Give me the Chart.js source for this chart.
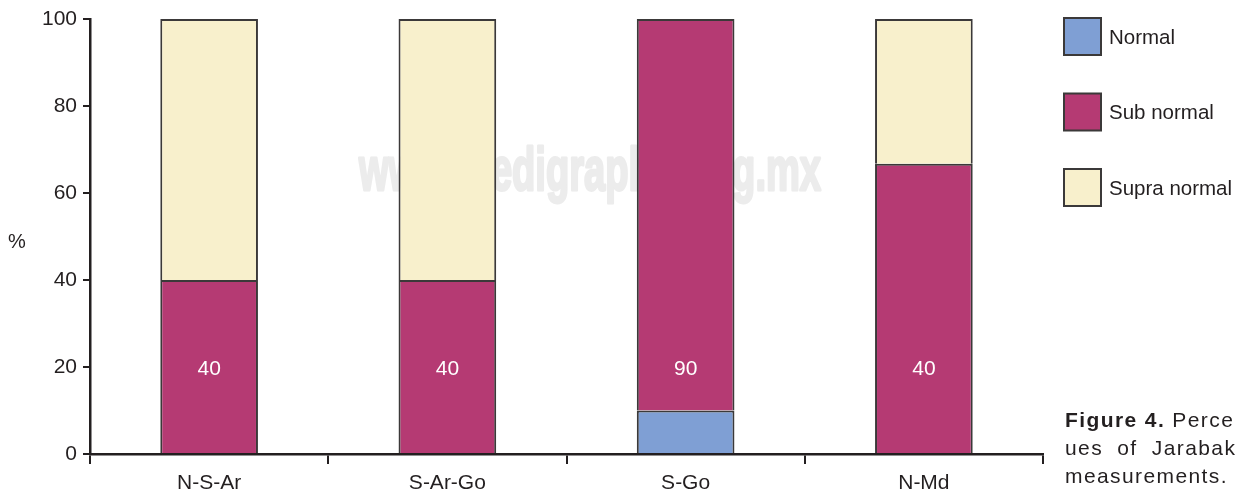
<!DOCTYPE html>
<html>
<head>
<meta charset="utf-8">
<script src="https://cdn.jsdelivr.net/npm/chart.js@4"></script>
<style>
  html, body { margin: 0; padding: 0; background: #fff; overflow: hidden; }
  #wrap { position: relative; width: 1243px; height: 493px; }
  #caption {
    position: absolute; left: 1065px; top: 406px; width: 400px;
    font: 21px "Liberation Sans", Arial, sans-serif; color: #231f20;
    letter-spacing: 1.4px; line-height: 28px; white-space: nowrap;
  }
  #caption .wide { word-spacing: 7px; }
</style>
</head>
<body>
<div id="wrap">
  <canvas id="chart"></canvas>
  <div id="caption"><b>Figure 4.</b> Perce<br><span class="wide">ues of Jarabak</span><br>measurements.</div>
</div>
<script>
// Data
const categories = ['N-S-Ar', 'S-Ar-Go', 'S-Go', 'N-Md'];
const normal = [0, 0, 10, 0];
const subNormal = [40, 40, 90, 66.7];
const supraNormal = [60, 60, 0, 33.3];
const subLabels = ['40', '40', '90', '40'];
const labelLevel = 20;           // value level where the numbers sit
const yTicks = [0, 20, 40, 60, 80, 100];

const FONT = '"Liberation Sans", Arial, sans-serif';
const INK = '#231f20';
const EDGE = '#3b3939';

// watermark, labels, legend and the % sign
const extras = {
  id: 'extras',
  beforeDatasetsDraw(chart) {
    const ctx = chart.ctx;
    ctx.save();
    ctx.font = 'bold 62px ' + FONT;
    ctx.fillStyle = '#ececec';
    ctx.strokeStyle = '#ececec';
    ctx.lineWidth = 3;
    ctx.lineJoin = 'round';
    ctx.textBaseline = 'alphabetic';
    const txt = 'www.medigraphic.org.mx';
    const w = ctx.measureText(txt).width;
    ctx.translate(359, 190);
    ctx.scale(462 / w, 1);
    ctx.strokeText(txt, 0, 0);
    ctx.fillText(txt, 0, 0);
    ctx.restore();
  },
  afterDraw(chart) {
    const ctx = chart.ctx;
    const { x, y } = chart.scales;
    const area = chart.chartArea;
    ctx.save();

    // numbers inside the bars
    ctx.font = '21px ' + FONT;
    ctx.fillStyle = '#fff';
    ctx.textAlign = 'center';
    ctx.textBaseline = 'middle';
    subLabels.forEach((t, i) => {
      ctx.fillText(t, x.getPixelForValue(i), y.getPixelForValue(labelLevel) + 2);
    });

    // % sign
    ctx.fillStyle = INK;
    ctx.font = '20px ' + FONT;
    ctx.fillText('%', 17, (area.top + area.bottom) / 2 + 6);

    // legend
    ctx.textAlign = 'left';
    ctx.font = '20.5px ' + FONT;
    chart.data.datasets.forEach((ds, i) => {
      const top = 18 + i * 75.5;
      ctx.fillStyle = ds.backgroundColor;
      ctx.fillRect(1064, top, 37, 37);
      ctx.strokeStyle = EDGE;
      ctx.lineWidth = 2;
      ctx.strokeRect(1064, top, 37, 37);
      ctx.fillStyle = INK;
      ctx.fillText(ds.label, 1109, top + 20);
    });
    ctx.restore();
  }
};

new Chart(document.getElementById('chart'), {
  type: 'bar',
  data: {
    labels: categories,
    datasets: [
      { label: 'Normal', data: normal, backgroundColor: '#7f9fd4' },
      { label: 'Sub normal', data: subNormal, backgroundColor: '#b53a73' },
      { label: 'Supra normal', data: supraNormal, backgroundColor: '#f8f0cc' }
    ].map(d => Object.assign(d, {
      borderColor: EDGE,
      borderWidth: 2,
      borderSkipped: 'start',
      categoryPercentage: 1,
      barPercentage: 0.41
    }))
  },
  options: {
    responsive: true,
    maintainAspectRatio: false,
    animation: false,
    layout: { padding: { top: 19, right: 200, bottom: 0, left: 0 } },
    plugins: { legend: { display: false }, tooltip: { enabled: false } },
    scales: {
      x: {
        stacked: true,
        grid: { drawOnChartArea: false, drawTicks: true, tickLength: 10, color: INK, lineWidth: 2 },
        border: { color: INK, width: 2.5 },
        ticks: { color: INK, font: { family: FONT, size: 21 }, padding: 7 },
        afterFit(scale) { scale.height = 39; }
      },
      y: {
        stacked: true,
        min: 0,
        max: 100,
        afterBuildTicks(scale) { scale.ticks = yTicks.map(v => ({ value: v })); },
        grid: { drawOnChartArea: false, drawTicks: true, tickLength: 7, color: INK, lineWidth: 2 },
        border: { color: INK, width: 2.5 },
        ticks: { color: INK, font: { family: FONT, size: 21 }, padding: 6 },
        afterFit(scale) { scale.width = 90; }
      }
    }
  },
  plugins: [extras]
});
</script>
</body>
</html>
